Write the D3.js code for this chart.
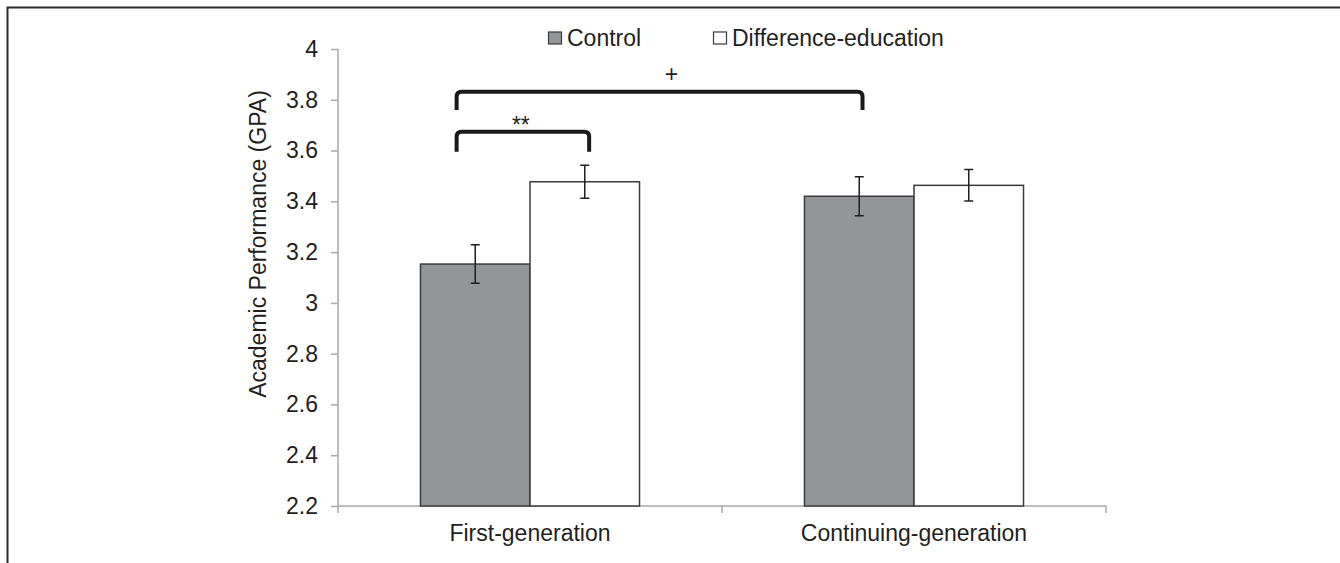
<!DOCTYPE html>
<html>
    <head>
        <style>
            body { margin: 0; background: #fff; }
            text { font-family: "Liberation Sans", Arial, sans-serif; fill: #231f20; }
        </style>
    </head>
    <body>
        <svg></svg>

        <script src="https://d3js.org/d3.v7.min.js"></script>

        <script>
            const categories = ["First-generation", "Continuing-generation"];
            const series = ["Control", "Difference-education"];

            // means and standard errors, one row per category
            const means = [[3.153, 3.477], [3.420, 3.463]];
            const errors = [[0.076, 0.065], [0.077, 0.062]];

            const yTicks = [2.2, 2.4, 2.6, 2.8, 3, 3.2, 3.4, 3.6, 3.8, 4];

            // significance brackets: [category, series, position along bar]
            const brackets = [
                { from: [0, 0, 0.33], to: [1, 0, 0.53], top: 3.832, leg: 3.76, label: "+" },
                { from: [0, 0, 0.33], to: [0, 1, 0.54], top: 3.674, leg: 3.595, label: "**" }
            ];

            const colors = ["#939598", "#ffffff"];

            const width = 1340,
                height = 563;

            const svg = d3.select("svg")
                        .attr("width", width)
                        .attr("height", height);

            // outer frame (top and left edge)
            svg.append("path")
                .attr("d", "M7.5," + height + "V7.5H" + width)
                .attr("fill", "none")
                .attr("stroke", "#2b2b2b")
                .attr("stroke-width", 2);

            const x0 = d3.scaleBand()
                        .domain(categories)
                        .range([338, 1106]);

            const x1 = d3.scaleBand()
                        .domain(series)
                        .range([0, x0.bandwidth()])
                        .paddingOuter(0.753);

            const y = d3.scaleLinear()
                        .domain([2.2, 4])
                        .range([506, 49]);

            // y axis
            const yAxis = svg.append("g")
                .attr("transform", "translate(338,0)")
                .call(d3.axisLeft(y).tickValues(yTicks).tickSize(7).tickPadding(13).tickFormat(d3.format("")));
            yAxis.selectAll("path, line").attr("stroke", "#a7a9ac").attr("stroke-width", 1.5);
            yAxis.select(".domain").attr("d", "M0," + y(4) + "V" + y(2.2));
            yAxis.selectAll("text").attr("font-size", 23).attr("fill", "#231f20")
                .style("font-family", "'Liberation Sans', Arial, sans-serif");

            // x axis line with ticks at band edges
            const xa = svg.append("g");
            xa.append("line")
                .attr("x1", x0.range()[0]).attr("x2", x0.range()[1])
                .attr("y1", y(2.2)).attr("y2", y(2.2))
                .attr("stroke", "#a7a9ac").attr("stroke-width", 1.5);
            const edges = categories.map(c => x0(c)).concat([x0.range()[1]]);
            xa.selectAll(".edge")
                .data(edges)
                .enter()
                .append("line")
                .attr("x1", d => d).attr("x2", d => d)
                .attr("y1", y(2.2)).attr("y2", y(2.2) + 7)
                .attr("stroke", "#a7a9ac").attr("stroke-width", 1.5);
            xa.selectAll(".cat")
                .data(categories)
                .enter()
                .append("text")
                .attr("x", d => x0(d) + x0.bandwidth() / 2)
                .attr("y", 541)
                .attr("text-anchor", "middle")
                .attr("font-size", 23)
                .text(d => d);

            // bars, grouped by category
            const g = svg.selectAll(".grp")
                        .data(categories)
                        .enter()
                        .append("g")
                        .attr("transform", d => "translate(" + x0(d) + ",0)");

            const cells = g.selectAll("g")
                        .data((d, i) => series.map((s, j) => ({ s: s, j: j, v: means[i][j], e: errors[i][j] })))
                        .enter()
                        .append("g");

            cells.append("rect")
                .attr("x", d => x1(d.s))
                .attr("y", d => y(d.v))
                .attr("width", x1.bandwidth())
                .attr("height", d => y(2.2) - y(d.v))
                .attr("fill", d => colors[d.j])
                .attr("stroke", "#3a3a3a")
                .attr("stroke-width", 1.5);

            // error bars
            cells.append("path")
                .attr("d", d => {
                    const cx = x1(d.s) + x1.bandwidth() / 2;
                    const t = y(d.v + d.e), b = y(d.v - d.e);
                    return "M" + (cx - 4.5) + "," + t + "H" + (cx + 4.5) +
                           "M" + cx + "," + t + "V" + b +
                           "M" + (cx - 4.5) + "," + b + "H" + (cx + 4.5);
                })
                .attr("fill", "none")
                .attr("stroke", "#231f20")
                .attr("stroke-width", 1.5);

            // significance brackets
            function bx(p) {
                return x0(categories[p[0]]) + x1(series[p[1]]) + p[2] * x1.bandwidth();
            }
            const r = 5;
            const br = svg.selectAll(".br")
                        .data(brackets)
                        .enter()
                        .append("g");
            br.append("path")
                .attr("d", d => {
                    const a = bx(d.from), b = bx(d.to), t = y(d.top), l = y(d.leg);
                    return "M" + a + "," + l + "V" + (t + r) + "Q" + a + "," + t + " " + (a + r) + "," + t +
                           "H" + (b - r) + "Q" + b + "," + t + " " + b + "," + (t + r) + "V" + l;
                })
                .attr("fill", "none")
                .attr("stroke", "#1a1a1a")
                .attr("stroke-width", 4);
            br.append("text")
                .attr("x", d => (bx(d.from) + bx(d.to)) / 2 + (d.label === "+" ? 12 : -2))
                .attr("y", d => y(d.top) + (d.label === "+" ? -10 : 1))
                .attr("text-anchor", "middle")
                .attr("font-size", 23)
                .text(d => d.label);

            // legend
            const lx = [548, 713];
            const lg = svg.selectAll(".lg")
                        .data(series)
                        .enter()
                        .append("g")
                        .attr("transform", (d, i) => "translate(" + lx[i] + ",0)");
            lg.append("rect")
                .attr("x", 0.5).attr("y", 32)
                .attr("width", 13).attr("height", 12)
                .attr("fill", (d, i) => colors[i])
                .attr("stroke", "#3a3a3a")
                .attr("stroke-width", 1.2);
            lg.append("text")
                .attr("x", 19)
                .attr("y", 46)
                .attr("font-size", 23)
                .text(d => d);

            // y axis title
            svg.append("text")
                .attr("transform", "translate(266,244) rotate(-90)")
                .attr("text-anchor", "middle")
                .attr("font-size", 23)
                .text("Academic Performance (GPA)");
        </script>
    </body>
</html>
